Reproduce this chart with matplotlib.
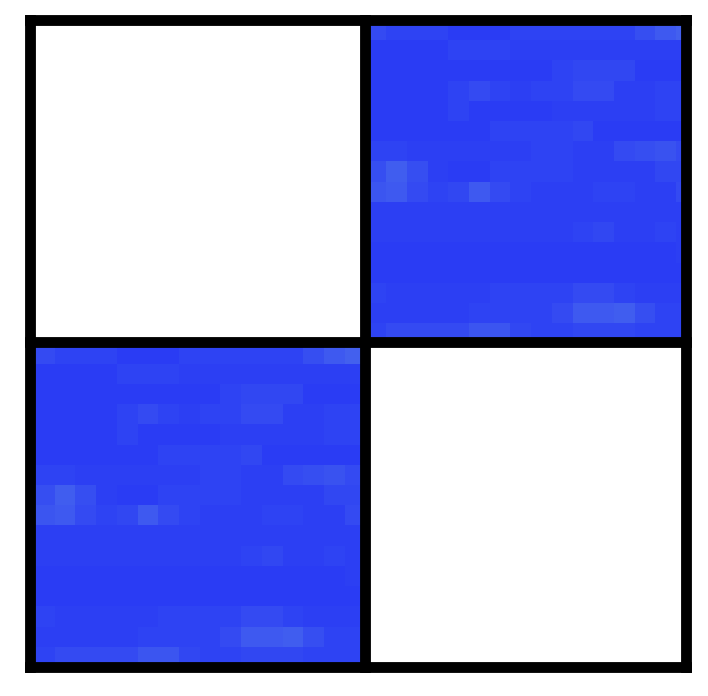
import numpy as np
import matplotlib
matplotlib.use("Agg")
import matplotlib.pyplot as plt
from matplotlib.colors import LinearSegmentedColormap

# lightness levels of the 16x16 off-diagonal block (0 = darkest blue, 5 = lightest)
block = np.array([
    [2, 1, 1, 1, 0, 0, 0, 1, 1, 1, 1, 1, 1, 2.5, 4, 5],
    [0, 0, 0, 0, 1, 1, 1, .5, .5, .5, .5, .5, .5, .5, .5, .5],
    [0, 0, 0, 0, 0, 0, 0, 0, 0, 1, 1.5, 1.5, 1.5, 0, 0, 0],
    [0, 0, 0, 0, 1, 2, 1, .5, 1, 1, 2, 2, .5, .5, 1, 1],
    [0, 0, 0, 0, 1, 0, 0, 0, 0, .5, .5, .5, .5, .5, 1, 1],
    [0, 0, 0, 0, 0, 0, 1, 1, 1, 1, 1.5, 0, 0, 0, 0, 0],
    [1, 1, .5, .5, .5, .5, .5, .5, 1, 1, .5, .5, 2, 2.5, 3, 2],
    [2.5, 4.5, 2.5, .5, 0, 0, 1, 1, 1, 1, .5, .5, .5, .5, 1.5, 1.5],
    [3.5, 4, 2, 1, 1.5, 4, 2, 1, .5, .5, .5, 1, 1, .5, .5, 2],
    [.5, .5, .5, .5, .5, .5, .5, .5, .5, .5, .5, .5, .5, .5, .5, .5],
    [.5, .5, .5, .5, .5, .5, .5, .5, .5, .5, 1, 1.5, .5, .5, 1, .5],
    [0, 0, 0, 0, 0, 0, 0, 0, 0, 0, 0, 0, 0, 0, 0, .5],
    [0, 0, 0, 0, 0, 0, 0, 0, 0, 0, 0, 0, 0, 0, 0, 0],
    [1, .5, .5, .5, .5, .5, 1, 1, 1, 1, 2, 2, 1, .5, .5, .5],
    [.5, .5, .5, .5, .5, 1, 1, 1, 1, 2, 4, 4, 4.5, 2.5, 1, 1],
    [1, 2, 2, 2, 2, 3.5, 3.5, 1.5, 1, 1, 1.5, 1.5, 1.5, 1, 1, 1],
])

n = block.shape[0]
empty = np.full((n, n), np.nan)
matrix = np.block([[empty, block], [block, empty]])

cmap = LinearSegmentedColormap.from_list("blues", ["#2A3CF4", "#4868EE"])
cmap.set_bad("white")

fig = plt.figure(figsize=(7.08, 6.96), dpi=100)
ax = fig.add_axes([24 / 708, 24 / 696, 667 / 708, 657 / 696])
ax.imshow(matrix, cmap=cmap, vmin=0, vmax=6, interpolation="nearest",
          extent=(0, 2 * n, 2 * n, 0), aspect="auto")
ax.set_xlim(-0.5, 31.72)
ax.set_ylim(32.24, -0.29)
ax.axis("off")

# thick black grid lines around the blocks
xs = [-0.23, 15.98, 31.46]
ys = [-0.04, 15.88, 32.0]
for x in xs:
    ax.plot([x, x], [ys[0], ys[-1]], color="black", lw=7.8,
            solid_capstyle="projecting", clip_on=False)
for y in ys:
    ax.plot([xs[0], xs[-1]], [y, y], color="black", lw=7.8,
            solid_capstyle="projecting", clip_on=False)

fig.savefig("out.png", dpi=100)
